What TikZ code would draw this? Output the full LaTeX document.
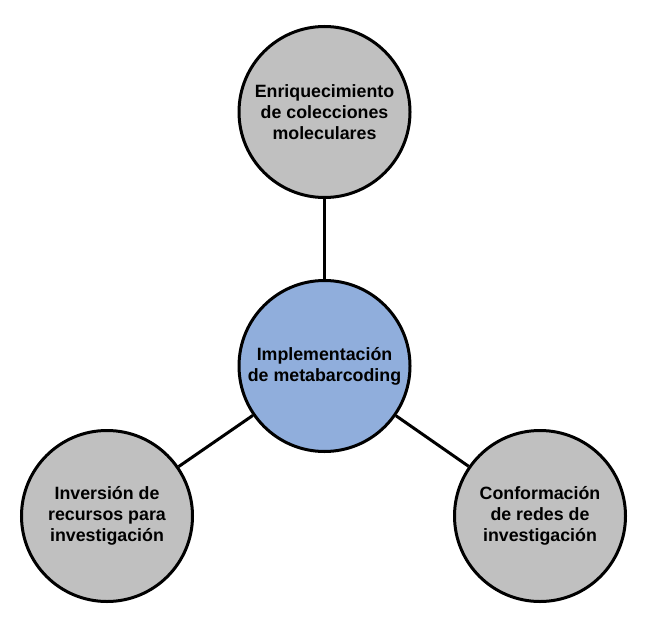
\documentclass[tikz,border=0pt]{standalone}
\usepackage{fontspec}
\setmainfont{Liberation Sans}
\usetikzlibrary{positioning}

\definecolor{hubblue}{RGB}{144,174,220}
\definecolor{topicgray}{RGB}{192,192,192}

\begin{document}
\begin{tikzpicture}[
    x=1pt, y=-1pt,
    topic/.style={draw, circle, line width=3pt, fill=topicgray,
                  minimum size=171pt, inner sep=0pt, align=center,
                  font=\fontsize{17.8}{21}\selectfont\bfseries},
    hub/.style={topic, fill=hubblue},
    link/.style={draw, line width=3pt}
  ]
  \useasboundingbox (0,0) rectangle (647,623);

  \node[hub] (impl) at (324.5,366) {Implementación\\de metabarcoding};
  \node[topic] (enriq) at (324.5,112) {Enriquecimiento\\de colecciones\\moleculares};
  \node[topic] (inver) at (107,516) {Inversión de\\recursos para\\investigación};
  \node[topic] (redes) at (540,516) {Conformación\\de redes de\\investigación};

  \draw[link] (impl) -- (enriq);
  \draw[link] (impl) -- (inver);
  \draw[link] (impl) -- (redes);
\end{tikzpicture}
\end{document}
